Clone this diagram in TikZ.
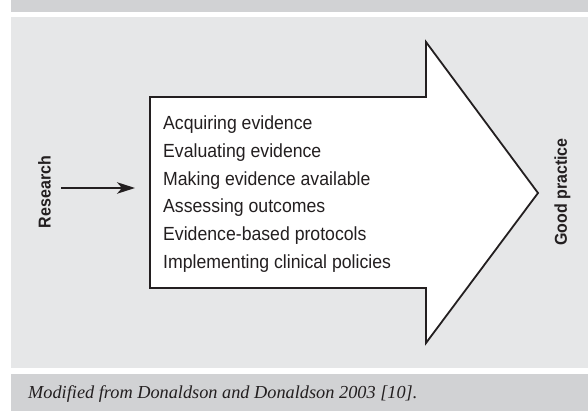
\documentclass[tikz,border=0pt]{standalone}
\usepackage{fontspec}
\setmainfont{Liberation Sans}
\newfontfamily\narrowfont[FakeStretch=0.93]{Liberation Sans}
\newfontfamily\captionfont{Liberation Serif}
\usetikzlibrary{arrows.meta}
\definecolor{bandgrey}{HTML}{D1D2D4}
\definecolor{panelgrey}{HTML}{E6E7E8}
\definecolor{inkblack}{HTML}{231F20}
\begin{document}
\begin{tikzpicture}[x=1pt,y=-1pt,
  outline/.style={draw=inkblack,line width=1.8pt,line join=miter,fill=white},
  sidelabel/.style={font=\narrowfont\fontsize{17.2}{18}\selectfont\bfseries,text=inkblack,rotate=90,inner sep=0pt},
  steplist/.style={font=\narrowfont\fontsize{19}{27.8}\selectfont,text=inkblack,align=left,inner sep=0pt,anchor=base west},
  feed/.style={draw=inkblack,line width=1.6pt,-{Stealth[length=18pt,width=11.5pt,inset=5pt]}}]
  \useasboundingbox (0,0) rectangle (588,411);
  % background bands
  \fill[bandgrey] (11,0) rectangle (588,12);
  \fill[panelgrey] (11,17) rectangle (588,368);
  \fill[bandgrey] (11,374) rectangle (588,411);
  % big block arrow
  \draw[outline] (150,97) -- (426,97) -- (426,42) -- (538,193)
    -- (426,343) -- (426,288) -- (150,288) -- cycle;
  % list of activities (anchored at the baseline of the last line)
  \node[steplist] (steps) at (163,268.5) {Acquiring evidence\\Evaluating evidence\\Making evidence available\\Assessing outcomes\\Evidence-based protocols\\Implementing clinical policies};
  % side labels
  \node[sidelabel] (research) at (44.5,192) {Research};
  \node[sidelabel] (good) at (562.5,192) {Good practice};
  % feed arrow into the block
  \coordinate (feedstart) at (61,188);
  \coordinate (feedend) at (135,188);
  \draw[feed] (feedstart) -- (feedend);
  % source line
  \node[font=\captionfont\itshape\fontsize{18.3}{20}\selectfont,text=inkblack,anchor=base west,inner sep=0pt] (source) at (28,398.5) {Modified from Donaldson and Donaldson 2003 [10].};
\end{tikzpicture}
\end{document}
